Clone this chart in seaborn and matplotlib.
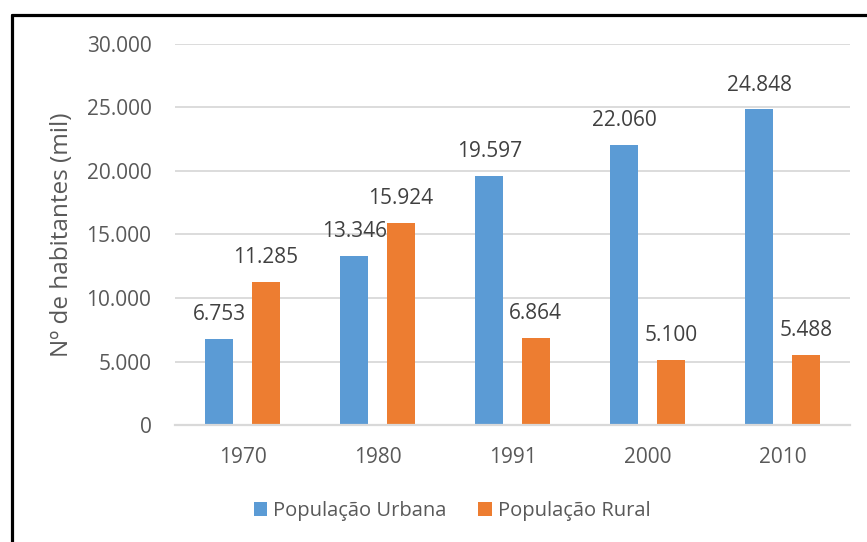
import matplotlib
matplotlib.use("Agg")
import matplotlib.pyplot as plt
import seaborn as sns
import pandas as pd
from matplotlib.patches import Patch
from matplotlib.lines import Line2D

years = ["1970", "1980", "1991", "2000", "2010"]
urbana = [6753, 13346, 19597, 22060, 24848]
rural = [11285, 15924, 6864, 5100, 5488]
series_names = ["População Urbana", "População Rural"]
colors = ["#5B9BD5", "#ED7D31"]
y_ticks = [0, 5000, 10000, 15000, 20000, 25000, 30000]

df = pd.DataFrame({
    "Ano": years * 2,
    "Valor": urbana + rural,
    "Série": [series_names[0]] * len(years) + [series_names[1]] * len(years),
})

sns.set_theme(style="white")
plt.rcParams["font.family"] = ["Open Sans", "DejaVu Sans"]

def fmt(v):
    return f"{v:,.0f}".replace(",", ".")

fig = plt.figure(figsize=(8.67, 5.42), dpi=100)
ax = fig.add_axes([175 / 867, 1 - 425 / 542, (850 - 175) / 867, (425 - 44) / 542])

sns.barplot(data=df, x="Ano", y="Valor", hue="Série", palette=colors,
            saturation=1, width=0.69, gap=0.41, ax=ax, legend=False,
            linewidth=0, errorbar=None)

ax.set_ylim(0, 30000)
ax.set_xlim(-0.5, len(years) - 0.5)
ax.set_yticks(y_ticks)
ax.set_yticklabels([fmt(v) for v in y_ticks])
ax.yaxis.grid(True, color="#D9D9D9", linewidth=1.3)
ax.set_axisbelow(True)
for s in ["top", "right", "left"]:
    ax.spines[s].set_visible(False)
ax.spines["bottom"].set_color("#D9D9D9")
ax.spines["bottom"].set_linewidth(1.6)
ax.tick_params(axis="y", length=0, pad=17, labelsize=15, labelcolor="#595959")
ax.tick_params(axis="x", length=0, pad=16, labelsize=15, labelcolor="#595959")
ax.set_xlabel("")
ax.set_ylabel("Nº de habitantes (mil)", fontsize=17.5, color="#595959", labelpad=9)

for cont in ax.containers:
    ax.bar_label(cont, labels=[fmt(v) for v in cont.datavalues], padding=10,
                 fontsize=15, color="#404040")

handles = [Patch(facecolor=c, edgecolor="none") for c in colors]
fig.legend(handles, series_names, loc="center", bbox_to_anchor=(452 / 867, 1 - 511 / 542),
           ncol=2, frameon=False, fontsize=14.5, labelcolor="#595959",
           handlelength=0.65, handleheight=0.65, handletextpad=0.3, columnspacing=1.6)

# figure border (top and left)
fig.add_artist(Line2D([12 / 867, 1.0], [1 - 14.5 / 542, 1 - 14.5 / 542], color="black",
                      linewidth=2.3, transform=fig.transFigure))
fig.add_artist(Line2D([12 / 867, 12 / 867], [0, 1 - 14.5 / 542], color="black",
                      linewidth=2.3, transform=fig.transFigure))

fig.savefig("out.png", dpi=100)
